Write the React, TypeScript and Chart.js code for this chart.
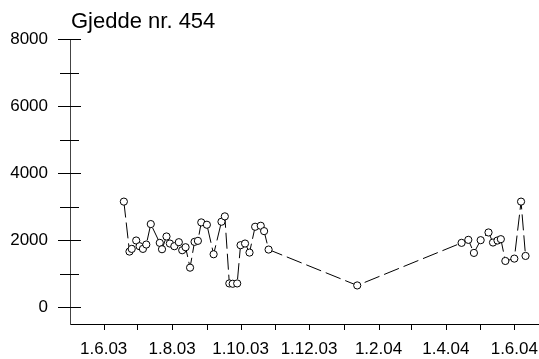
import React, { useEffect, useRef } from "react";
import { Chart, registerables } from "chart.js";

Chart.register(...registerables);

const chartTitle = "Gjedde nr. 454";

// Sampling dates (stored ISO) and measured values
const sampleDates = [
  "2003-06-19", "2003-06-24", "2003-06-26", "2003-06-30", "2003-07-03",
  "2003-07-06", "2003-07-09", "2003-07-13", "2003-07-21", "2003-07-23",
  "2003-07-27", "2003-07-30", "2003-08-03", "2003-08-07", "2003-08-10",
  "2003-08-13", "2003-08-17", "2003-08-21", "2003-08-24", "2003-08-27",
  "2003-09-01", "2003-09-07", "2003-09-14", "2003-09-17", "2003-09-21",
  "2003-09-24", "2003-09-28", "2003-10-01", "2003-10-05", "2003-10-09",
  "2003-10-14", "2003-10-19", "2003-10-22", "2003-10-26", "2004-01-13",
  "2004-04-15", "2004-04-21", "2004-04-26", "2004-05-02", "2004-05-09",
  "2004-05-13", "2004-05-17", "2004-05-20", "2004-05-24", "2004-06-01",
  "2004-06-07", "2004-06-11",
];

const sampleValues = [
  3150, 1660, 1740, 1990, 1820,
  1740, 1870, 2480, 1920, 1730,
  2110, 1900, 1820, 1940, 1700,
  1790, 1180, 1950, 1980, 2530,
  2460, 1580, 2550, 2710, 710,
  700, 710, 1850, 1900, 1630,
  2400, 2430, 2270, 1720, 650,
  1920, 2010, 1620, 2000, 2230,
  1930, 1990, 2030, 1380, 1450,
  3150, 1530,
];

const yTickValues = [0, 1000, 2000, 3000, 4000, 5000, 6000, 7000, 8000];
const yTickLabels = ["0", "", "2000", "", "4000", "", "6000", "", "8000"];

const monthTicks = [
  "2003-06-01", "2003-07-01", "2003-08-01", "2003-09-01", "2003-10-01",
  "2003-11-01", "2003-12-01", "2004-01-01", "2004-02-01", "2004-03-01",
  "2004-04-01", "2004-05-01", "2004-06-01",
];
const monthLabels = [
  "1.6.03", "", "1.8.03", "", "1.10.03",
  "", "1.12.03", "", "1.2.04", "",
  "1.4.04", "", "1.6.04",
];

const xRange = ["2003-05-02", "2004-06-23"];
const yRange = [-500, 8000];

const FONT = "'Liberation Sans', Arial, Helvetica, sans-serif";

const toDay = (iso: string) => {
  const [y, m, d] = iso.split("-").map(Number);
  return Date.UTC(y, m - 1, d) / 86400000;
};

const tickMarks = {
  id: "tickMarks",
  afterDraw(chart: any) {
    const { ctx, chartArea } = chart;
    const xs = chart.scales.x;
    const ys = chart.scales.y;
    ctx.save();
    ctx.strokeStyle = "#000";
    ctx.lineWidth = 1;
    yTickValues.forEach((v, i) => {
      const py = Math.round(ys.getPixelForValue(v)) + 0.5;
      const major = yTickLabels[i] !== "";
      ctx.beginPath();
      ctx.moveTo(chartArea.left - (major ? 12 : 10), py);
      ctx.lineTo(chartArea.left + (major ? 11 : 9), py);
      ctx.stroke();
    });
    monthTicks.forEach((d) => {
      const px = Math.round(xs.getPixelForValue(toDay(d))) + 0.5;
      ctx.beginPath();
      ctx.moveTo(px, chartArea.bottom);
      ctx.lineTo(px, chartArea.bottom + 6);
      ctx.stroke();
    });
    ctx.fillStyle = "#000";
    ctx.font = `22px ${FONT}`;
    ctx.textAlign = "left";
    ctx.textBaseline = "alphabetic";
    ctx.fillText(chartTitle, chartArea.left + 1, 28);
    ctx.restore();
  },
};

export default function App() {
  const canvasRef = useRef<HTMLCanvasElement | null>(null);

  useEffect(() => {
    const canvas = canvasRef.current;
    if (!canvas) return;
    const points = sampleDates.map((d, i) => ({ x: toDay(d), y: sampleValues[i] }));

    const chart = new Chart(canvas, {
      type: "line",
      data: {
        datasets: [
          {
            data: points,
            borderColor: "#000",
            borderWidth: 1,
            borderDash: [16, 5],
            pointRadius: 3.6,
            pointBackgroundColor: "#fff",
            pointBorderColor: "#000",
            pointBorderWidth: 1,
            tension: 0,
            fill: false,
          },
        ],
      },
      options: {
        animation: false,
        responsive: false,
        maintainAspectRatio: false,
        layout: { autoPadding: false, padding: { top: 39, right: 0, bottom: 0, left: 0 } },
        plugins: {
          legend: { display: false },
          title: { display: false },
          tooltip: { enabled: false },
        },
        scales: {
          x: {
            type: "linear",
            min: toDay(xRange[0]),
            max: toDay(xRange[1]),
            grid: { display: false, drawTicks: false },
            border: { display: true, color: "#000", width: 1 },
            afterBuildTicks: (scale: any) => {
              scale.ticks = monthTicks.map((d) => ({ value: toDay(d) }));
            },
            afterFit: (scale: any) => {
              scale.height = 35;
              scale.paddingLeft = 0;
              scale.paddingRight = 0;
            },
            ticks: {
              autoSkip: false,
              maxRotation: 0,
              minRotation: 0,
              padding: 15,
              color: "#000",
              font: { family: FONT, size: 17 },
              callback: (_v: any, i: number) => monthLabels[i],
            },
          },
          y: {
            type: "linear",
            min: yRange[0],
            max: yRange[1],
            grid: { display: false, drawTicks: false },
            border: { display: true, color: "#444", width: 1 },
            afterBuildTicks: (scale: any) => {
              scale.ticks = yTickValues.map((v) => ({ value: v }));
            },
            afterFit: (scale: any) => {
              scale.width = 70;
              scale.paddingTop = 0;
              scale.paddingBottom = 0;
            },
            ticks: {
              autoSkip: false,
              padding: 22,
              color: "#000",
              font: { family: FONT, size: 17 },
              callback: (_v: any, i: number) => yTickLabels[i],
            },
          },
        },
      },
      plugins: [tickMarks],
    });

    return () => chart.destroy();
  }, []);

  return (
    <div style={{ position: "fixed", left: 0, top: 0, width: 539, height: 359, background: "#fff" }}>
      <canvas ref={canvasRef} width={539} height={359} style={{ display: "block" }} />
    </div>
  );
}
